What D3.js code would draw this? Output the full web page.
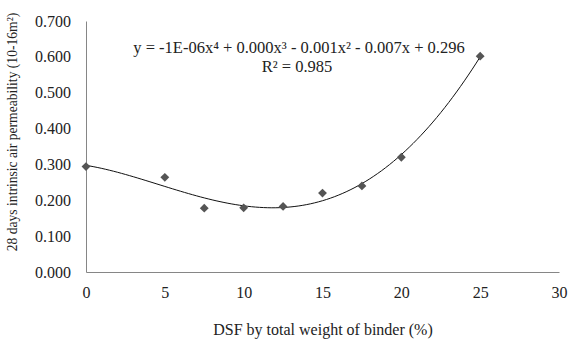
<!DOCTYPE html>
<html>
<head>
<meta charset="utf-8">
<script src="https://cdn.jsdelivr.net/npm/d3@7"></script>
<style>
  body { margin: 0; background: #fff; }
  text { font-family: "Liberation Serif", "Times New Roman", serif; fill: #222; }
</style>
</head>
<body>
<svg id="chart" width="568" height="339"></svg>
<script>
// data
const dsf = [0, 5, 7.5, 10, 12.5, 15, 17.5, 20, 25];
const permeability = [0.294, 0.264, 0.178, 0.179, 0.183, 0.220, 0.240, 0.320, 0.602];
const xTicks = [0, 5, 10, 15, 20, 25, 30];
const yTicks = [0, 0.1, 0.2, 0.3, 0.4, 0.5, 0.6, 0.7];
const equationText = "y = -1E-06x⁴ + 0.000x³ - 0.001x² - 0.007x + 0.296";

const svg = d3.select("#chart");
const margin = { top: 21, right: 8, bottom: 67, left: 86 };
const width = 568, height = 339;

const x = d3.scaleLinear().domain([0, 30]).range([margin.left, width - margin.right - 1]);
const y = d3.scaleLinear().domain([0, 0.7]).range([height - margin.bottom, margin.top]);

// 4th order least squares trendline (like the spreadsheet's)
function polyFit(xs, ys, order) {
  const n = order + 1;
  const A = [];
  for (let i = 0; i < n; i++) {
    A.push([]);
    for (let j = 0; j <= n; j++) A[i].push(0);
  }
  xs.forEach((xv, k) => {
    for (let i = 0; i < n; i++) {
      for (let j = 0; j < n; j++) A[i][j] += Math.pow(xv, i + j);
      A[i][n] += ys[k] * Math.pow(xv, i);
    }
  });
  for (let i = 0; i < n; i++) {
    let p = i;
    for (let r = i + 1; r < n; r++) if (Math.abs(A[r][i]) > Math.abs(A[p][i])) p = r;
    [A[i], A[p]] = [A[p], A[i]];
    for (let r = 0; r < n; r++) {
      if (r === i) continue;
      const f = A[r][i] / A[i][i];
      for (let c = i; c <= n; c++) A[r][c] -= f * A[i][c];
    }
  }
  return A.map((row, i) => row[n] / row[i]);
}
const coef = polyFit(dsf, permeability, 4);
const fx = v => coef.reduce((s, c, i) => s + c * Math.pow(v, i), 0);

// axes
const xAxis = svg.append("g")
  .attr("transform", `translate(0,${y(0)})`)
  .call(d3.axisBottom(x).tickValues(xTicks).tickSize(0).tickPadding(15).tickFormat(d3.format("d")));
const yAxis = svg.append("g")
  .attr("transform", `translate(${x(0)},0)`)
  .call(d3.axisLeft(y).tickValues(yTicks).tickSize(0).tickPadding(15).tickFormat(d3.format(".3f")));
[xAxis, yAxis].forEach(g => {
  g.select(".domain").attr("stroke", "#868686");
  g.selectAll("text").style("font-family", "Liberation Serif").style("font-size", "16px").attr("fill", "#222");
});

// trendline
const curveXs = d3.range(0, 25.001, 0.25);
svg.append("path")
  .datum(curveXs)
  .attr("fill", "none")
  .attr("stroke", "#111")
  .attr("stroke-width", 1)
  .attr("d", d3.line().x(d => x(d)).y(d => y(fx(d))));

// markers
svg.selectAll(".pt")
  .data(dsf)
  .enter()
  .append("path")
  .attr("class", "pt")
  .attr("transform", (d, i) => `translate(${x(d)},${y(permeability[i])})`)
  .attr("d", d3.symbol(d3.symbolDiamond2, 50))
  .attr("fill", "#555");

// equation
svg.append("text")
  .attr("x", 299).attr("y", 53)
  .attr("text-anchor", "middle")
  .style("font-size", "16.5px")
  .text(equationText);
svg.append("text")
  .attr("x", 297).attr("y", 72)
  .attr("text-anchor", "middle")
  .style("font-size", "16.5px")
  .text("R² = 0.985");

// axis titles
svg.append("text")
  .attr("x", 323).attr("y", 335)
  .attr("text-anchor", "middle")
  .style("font-size", "16px")
  .text("DSF by total weight of binder (%)");

svg.append("text")
  .attr("transform", "translate(17,132) rotate(-90)")
  .attr("text-anchor", "middle")
  .style("font-size", "13.6px")
  .text("28 days intrinsic air permeability (10-16m²)");
</script>
</body>
</html>
